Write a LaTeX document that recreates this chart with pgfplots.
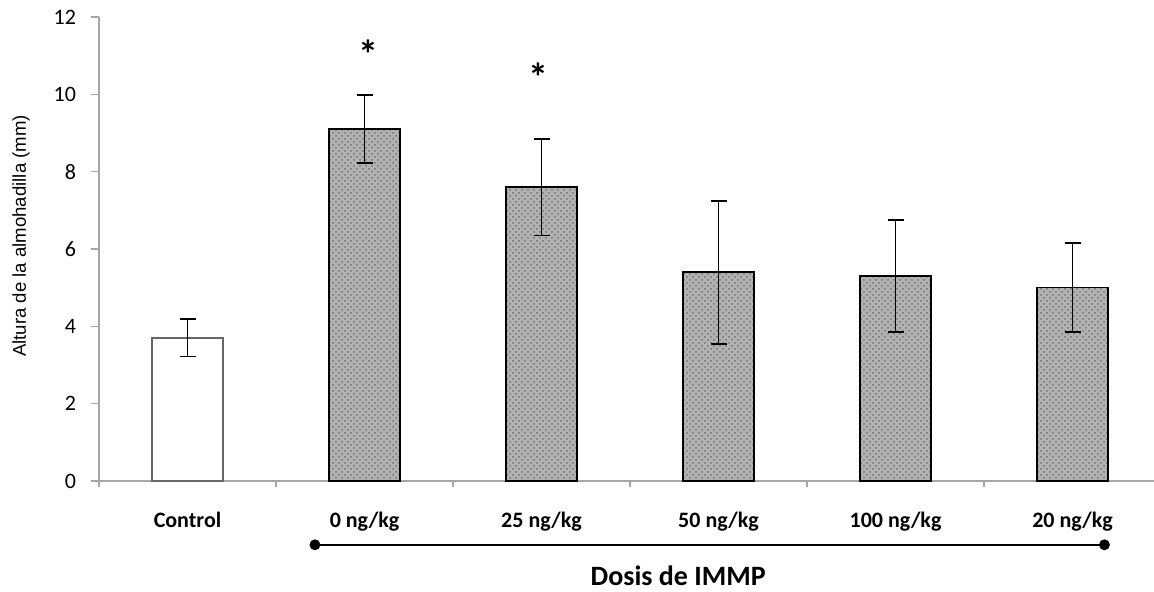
\documentclass[border=0pt]{standalone}
\usepackage{fontspec}
\setmainfont{Carlito}
\newfontfamily\arialf{Liberation Sans}
\usepackage{pgfplots}
\pgfplotsset{compat=1.18}
\usetikzlibrary{patterns}

\definecolor{axgray}{RGB}{166,166,166}
\definecolor{barfill}{RGB}{178,178,178}

\begin{document}
\begin{tikzpicture}
\begin{axis}[
  name=ax,
  scale only axis,
  width=527.5pt, height=232pt,
  xmin=-0.5, xmax=5.46,
  ymin=0, ymax=12,
  axis x line=bottom, axis y line=left,
  axis line style={-, axgray, line width=0.8pt},
  tick style={axgray, line width=0.8pt},
  tick align=outside,
  major tick length=4pt,
  minor tick length=3pt,
  ytick={0,2,...,12},
  xtick={0,...,5},
  xticklabels={Control,0 ng/kg,25 ng/kg,50 ng/kg,100 ng/kg,20 ng/kg},
  major x tick style={draw=none},
  minor xtick={-0.5,0.5,1.5,2.5,3.5,4.5},
  xticklabel style={font=\fontsize{11}{12}\selectfont\bfseries, yshift=-8pt},
  yticklabel style={font=\fontsize{11}{12}\selectfont, xshift=-4pt},
  /pgf/number format/assume math mode=true,
  xlabel={\textbf{Dosis de IMMP}},
  xlabel style={font=\fontsize{14}{16}\selectfont, at={(axis description cs:0.549,-0.205)}, anchor=center},
  ylabel={Altura de la almohadilla (mm)},
  ylabel style={font=\arialf\fontsize{9.3}{11}\selectfont, at={(axis description cs:-0.0739,0.528)}, anchor=center},
  clip=false,
  ybar, bar width=35.5pt, bar shift=0pt,
  error bars/y dir=both, error bars/y explicit,
  error bars/error bar style={black, line width=0.9pt},
  error bars/error mark options={black, line width=0.9pt, mark size=4pt, rotate=90},
]
\addplot[fill=white, draw=gray!80!black, line width=0.8pt]
  coordinates {(0,3.7) +- (0,0.48)};
\addplot[fill=barfill, draw=black, line width=0.8pt,
  postaction={pattern=crosshatch dots, pattern color=black!55}]
  coordinates {(1,9.1) +- (0,0.88) (2,7.6) +- (0,1.25) (3,5.4) +- (0,1.85)
               (4,5.3) +- (0,1.45) (5,5.0) +- (0,1.15)};
\node[font=\fontsize{20}{20}\selectfont\bfseries] at (axis cs:1.02,11.05) {*};
\node[font=\fontsize{20}{20}\selectfont\bfseries] at (axis cs:1.98,10.45) {*};
\addplot[sharp plot, black, line width=0.8pt, mark=*, mark size=2.3pt,
  error bars/y dir=none]
  coordinates {(0.72,-1.65) (5.18,-1.65)};
\end{axis}
\pgfresetboundingbox
\path (ax.south west) ++(-49.5pt,-55.5pt) coordinate (bl);
\path (ax.north east) ++(0,8.5pt) coordinate (tr);
\path (bl) rectangle (tr);
\end{tikzpicture}
\end{document}
